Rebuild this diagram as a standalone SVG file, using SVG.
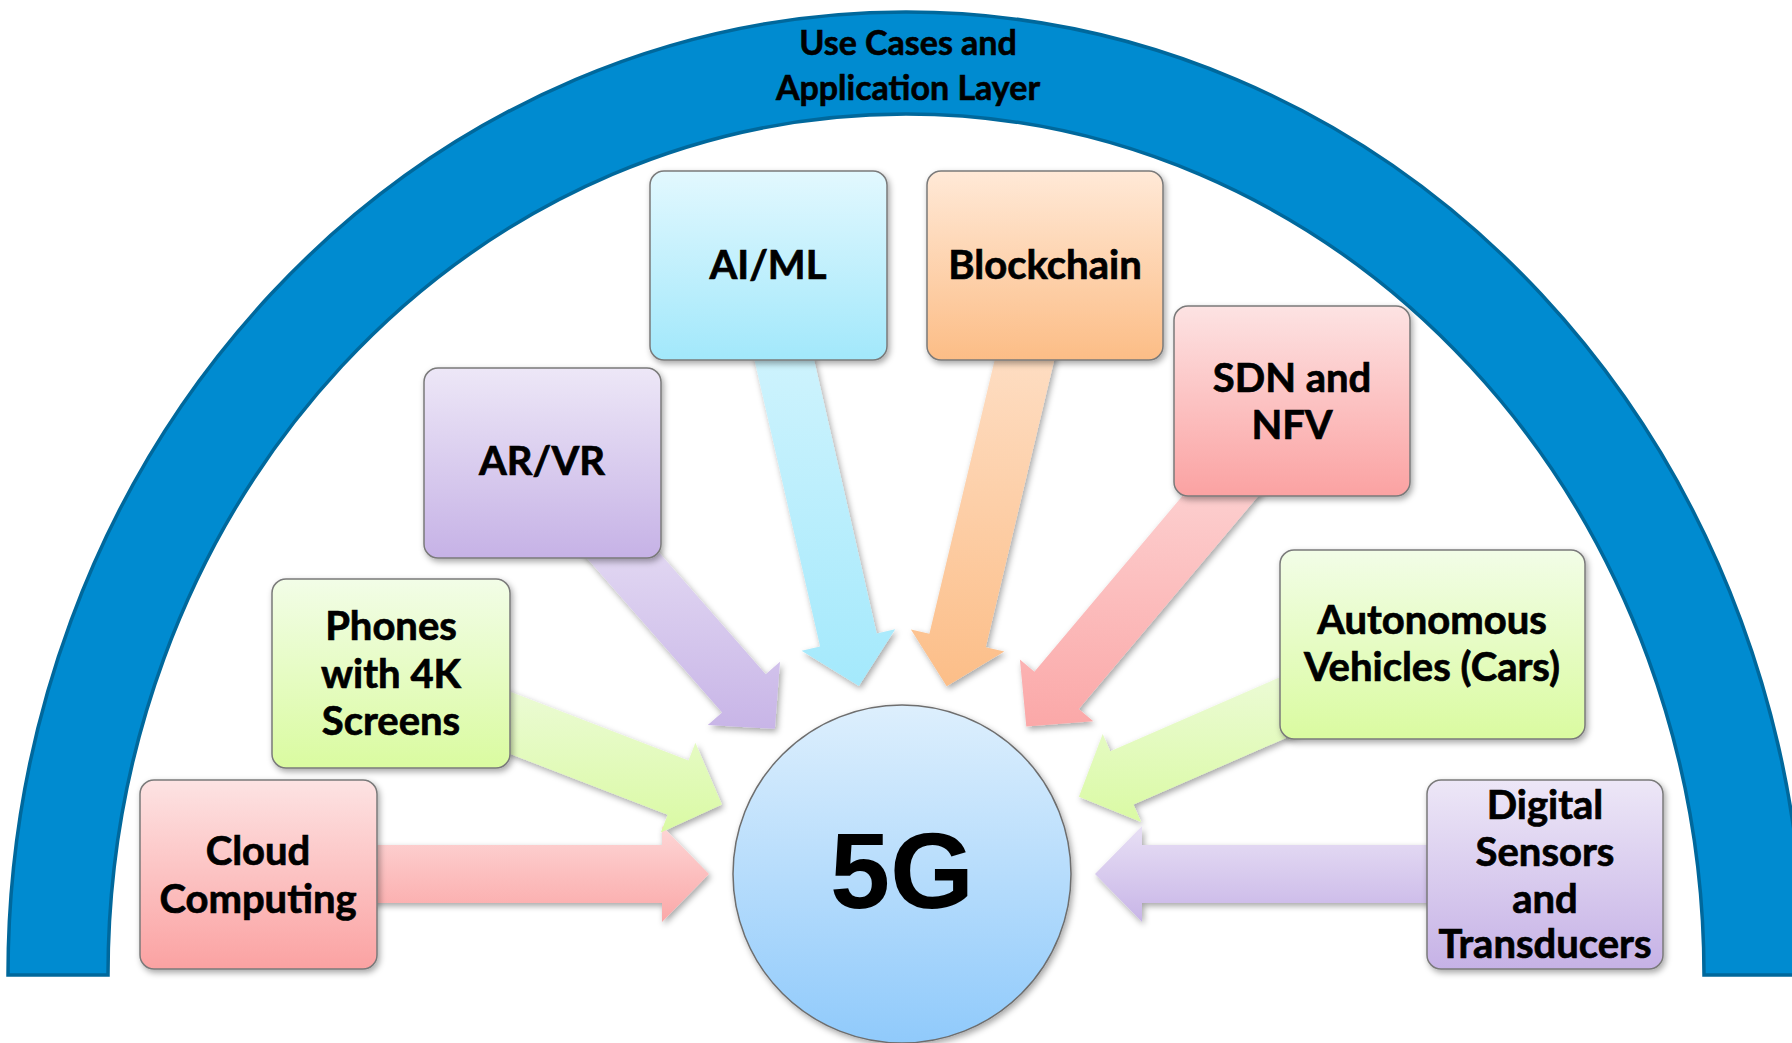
<svg xmlns="http://www.w3.org/2000/svg" width="1792" height="1043" viewBox="0 0 1792 1043">
  <defs>
    <style>
      .lbl { font-family: Lato, "Open Sans", "Liberation Sans", sans-serif; font-weight: 700; font-size: 40px; fill: #000; stroke: #000; stroke-width: 0.7; text-anchor: middle; }
      .ttl { font-family: Lato, "Open Sans", "Liberation Sans", sans-serif; font-weight: 700; font-size: 34px; fill: #000; stroke: #000; stroke-width: 0.6; text-anchor: middle; }
      .big { font-family: "Liberation Sans", Arial, sans-serif; font-weight: 700; font-size: 108px; fill: #000; text-anchor: middle; }
      .box { stroke: #7a7a7a; stroke-width: 1.5; }
    </style>
    <filter id="shadow" x="-10%" y="-10%" width="130%" height="130%">
      <feDropShadow dx="2" dy="3" stdDeviation="3" flood-color="#000" flood-opacity="0.35"/>
    </filter>
    <!-- node fills -->
    <linearGradient id="gCyan" x1="0" y1="0" x2="0" y2="1"><stop offset="0" stop-color="#E2F8FE"/><stop offset="1" stop-color="#A2E8FB"/></linearGradient>
    <linearGradient id="gOrange" x1="0" y1="0" x2="0" y2="1"><stop offset="0" stop-color="#FFE9D7"/><stop offset="1" stop-color="#FCBD86"/></linearGradient>
    <linearGradient id="gPink" x1="0" y1="0" x2="0" y2="1"><stop offset="0" stop-color="#FDE3E3"/><stop offset="1" stop-color="#FBA2A2"/></linearGradient>
    <linearGradient id="gPurple" x1="0" y1="0" x2="0" y2="1"><stop offset="0" stop-color="#EDE7F7"/><stop offset="1" stop-color="#C6B2E6"/></linearGradient>
    <linearGradient id="gGreen" x1="0" y1="0" x2="0" y2="1"><stop offset="0" stop-color="#F2FDE7"/><stop offset="1" stop-color="#DAFBA0"/></linearGradient>
    <linearGradient id="gCore" x1="0" y1="0" x2="0" y2="1"><stop offset="0" stop-color="#DDEFFD"/><stop offset="1" stop-color="#90CAFB"/></linearGradient>
    <!-- connector fills -->
    <linearGradient id="aCyan" x1="0" y1="0" x2="0" y2="1"><stop offset="0" stop-color="#D2F4FD"/><stop offset="1" stop-color="#A4E9FC"/></linearGradient>
    <linearGradient id="aOrange" x1="0" y1="0" x2="0" y2="1"><stop offset="0" stop-color="#FEE0C8"/><stop offset="1" stop-color="#FCBE88"/></linearGradient>
    <linearGradient id="aPink" x1="0" y1="0" x2="0" y2="1"><stop offset="0" stop-color="#FDD6D6"/><stop offset="1" stop-color="#FBA8A8"/></linearGradient>
    <linearGradient id="aPurple" x1="0" y1="0" x2="0" y2="1"><stop offset="0" stop-color="#E8E0F5"/><stop offset="1" stop-color="#C8B5E7"/></linearGradient>
    <linearGradient id="aGreen" x1="0" y1="0" x2="0" y2="1"><stop offset="0" stop-color="#EEFBDC"/><stop offset="1" stop-color="#DAFAA4"/></linearGradient>
  </defs>

  <rect width="1792" height="1043" fill="#fff"/>

  <!-- outer layer band -->
  <g id="layer-arch">
    <path d="M 8,975 A 898 963 0 0 1 1804,975 L 1704,975 A 798 861 0 0 0 108,975 Z" fill="#008BD0" stroke="#00689C" stroke-width="3.5"/>
    <text class="ttl" x="908" y="55">Use Cases and</text>
    <text class="ttl" x="908" y="100">Application Layer</text>
  </g>

  <!-- block arrows pointing into the core -->
  <g id="connectors" filter="url(#shadow)">
    <polygon id="c-cloud" fill="url(#aPink)" points="302,845 662,845 662,826 709,874 662,922 662,903 302,903"/>
    <polygon id="c-phones" fill="url(#aGreen)" points="445.9,666.9 688.5,760.5 695.4,742.8 721.9,804.5 660.8,832.4 667.7,814.7 425.1,721.1"/>
    <polygon id="c-arvr" fill="url(#aPurple)" points="614.2,501.3 765.7,674.3 780.0,661.8 774.9,728.8 707.8,725.0 722.1,712.5 570.6,539.5"/>
    <polygon id="c-aiml" fill="url(#aCyan)" points="805.3,321.6 876.7,633.5 895.2,629.3 858.9,685.9 801.6,650.7 820.1,646.5 748.7,334.6"/>
    <polygon id="c-blockchain" fill="url(#aOrange)" points="1060.0,335.9 985.8,647.2 1004.3,651.6 946.7,686.2 910.9,629.4 929.4,633.8 1003.6,322.5"/>
    <polygon id="c-sdn" fill="url(#aPink)" points="1272.0,479.7 1078.8,709.1 1093.3,721.3 1026.3,726.4 1019.9,659.5 1034.4,671.7 1227.6,442.3"/>
    <polygon id="c-auto" fill="url(#aGreen)" points="1353.5,708.5 1133.5,804.5 1141.1,821.9 1078.9,796.7 1102.7,733.9 1110.3,751.3 1330.3,655.3"/>
    <polygon id="c-sensors" fill="url(#aPurple)" points="1502,845 1142,845 1142,826 1095,874 1142,922 1142,903 1502,903"/>
  </g>

  <g id="n-aiml">
    <rect class="box" x="650" y="171" width="237" height="189" rx="14" fill="url(#gCyan)" filter="url(#shadow)"/>
    <text class="lbl" x="768" y="279">AI/ML</text>
  </g>
  <g id="n-blockchain">
    <rect class="box" x="927" y="171" width="236" height="189" rx="14" fill="url(#gOrange)" filter="url(#shadow)"/>
    <text class="lbl" x="1045" y="279">Blockchain</text>
  </g>
  <g id="n-sdn">
    <rect class="box" x="1174" y="306" width="236" height="190" rx="14" fill="url(#gPink)" filter="url(#shadow)"/>
    <text class="lbl" x="1292" y="392">SDN and</text>
    <text class="lbl" x="1292" y="439">NFV</text>
  </g>
  <g id="n-arvr">
    <rect class="box" x="424" y="368" width="237" height="190" rx="14" fill="url(#gPurple)" filter="url(#shadow)"/>
    <text class="lbl" x="542" y="475">AR/VR</text>
  </g>
  <g id="n-phones">
    <rect class="box" x="272" y="579" width="238" height="189" rx="14" fill="url(#gGreen)" filter="url(#shadow)"/>
    <text class="lbl" x="391" y="640">Phones</text>
    <text class="lbl" x="391" y="688">with 4K</text>
    <text class="lbl" x="391" y="735">Screens</text>
  </g>
  <g id="n-cloud">
    <rect class="box" x="140" y="780" width="237" height="189" rx="14" fill="url(#gPink)" filter="url(#shadow)"/>
    <text class="lbl" x="258" y="865">Cloud</text>
    <text class="lbl" x="258" y="913">Computing</text>
  </g>
  <g id="n-auto">
    <rect class="box" x="1280" y="550" width="305" height="189" rx="14" fill="url(#gGreen)" filter="url(#shadow)"/>
    <text class="lbl" x="1432" y="634">Autonomous</text>
    <text class="lbl" x="1432" y="681">Vehicles (Cars)</text>
  </g>
  <g id="n-sensors">
    <rect class="box" x="1427" y="780" width="236" height="189" rx="14" fill="url(#gPurple)" filter="url(#shadow)"/>
    <text class="lbl" x="1545" y="819">Digital</text>
    <text class="lbl" x="1545" y="866">Sensors</text>
    <text class="lbl" x="1545" y="913">and</text>
    <text class="lbl" x="1545" y="958">Transducers</text>
  </g>

  <g id="n-5g">
    <circle cx="902" cy="874" r="169" fill="url(#gCore)" stroke="#6e6e6e" stroke-width="1.5" filter="url(#shadow)"/>
    <text class="big" x="902" y="908">5G</text>
  </g>
</svg>
